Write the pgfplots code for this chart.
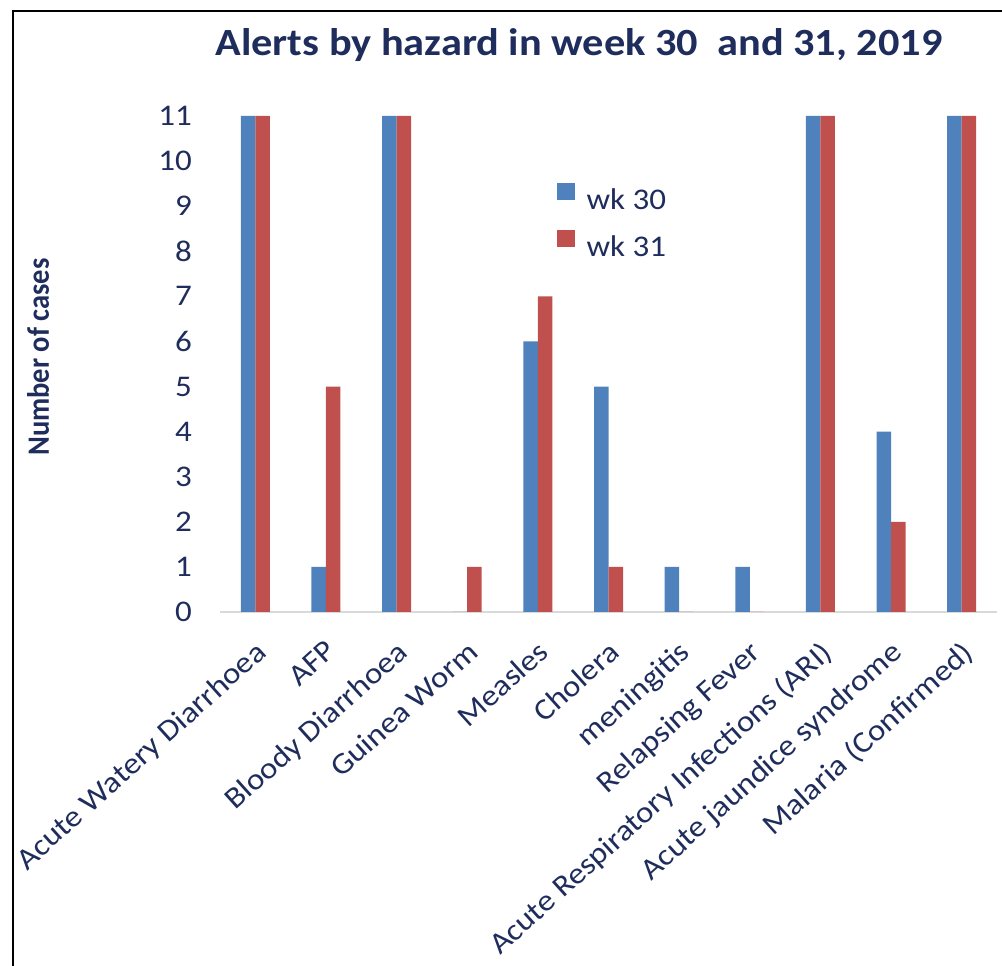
\documentclass[border=0pt]{standalone}
\usepackage{pgfplots}
\pgfplotsset{compat=1.18}
\usepackage{fontspec}
\setmainfont{Carlito}[FakeStretch=1.1]
\newfontfamily\condfont{Carlito}[FakeStretch=0.92]
\definecolor{barblue}{HTML}{4F81BD}
\definecolor{barred}{HTML}{C0504D}
\definecolor{navy}{HTML}{1F2D5C}
\definecolor{axgray}{HTML}{D9D9D9}
\begin{document}
\begin{tikzpicture}
\useasboundingbox (0,0) rectangle (1002pt,966pt);
\draw[line width=2.5pt, black] (13pt,-20pt) -- (13pt,955pt) -- (1030pt,955pt);
\begin{axis}[
  at={(220pt,354pt)}, anchor=south west,
  scale only axis, width=777pt, height=496pt,
  xmin=-0.5, xmax=10.5, ymin=0, ymax=11,
  ybar=0pt, bar width=14.5pt,
  axis x line*=bottom, axis y line*=left,
  x axis line style={draw=axgray, line width=2pt, -},
  y axis line style={draw=none},
  tick style={draw=none}, major tick length=0pt,
  xtick={0,...,10},
  xticklabels={Acute Watery Diarrhoea, AFP, Bloody Diarrhoea, Guinea Worm, Measles, Cholera, meningitis, Relapsing Fever, Acute Respiratory Infections (ARI), Acute jaundice syndrome, Malaria (Confirmed)},
  x tick label style={rotate=42, anchor=north east, inner sep=0pt, xshift=-19pt, yshift=-19pt, font=\fontsize{30}{36}\selectfont, text=navy},
  ytick={0,...,11},
  y tick label style={anchor=east, inner sep=0pt, xshift=-28pt, font=\fontsize{30}{36}\selectfont, text=navy},
  /pgf/number format/assume math mode=true,
  legend style={at={(0.433,0.865)}, anchor=north west, draw=none, fill=none, font=\fontsize{30}{36}\selectfont, text=navy, row sep=19pt, column sep=12pt, inner sep=0pt, nodes={inner sep=0pt}},
  legend cell align=left,
]
\addplot[fill=barblue, draw=none, legend image code/.code={\fill[barblue] (0pt,0pt) rectangle (18pt,17pt);}] coordinates {(0,11) (1,1) (2,11) (3,0) (4,6) (5,5) (6,1) (7,1) (8,11) (9,4) (10,11)};
\addplot[fill=barred, draw=none, legend image code/.code={\fill[barred] (0pt,0pt) rectangle (18pt,17pt);}] coordinates {(0,11) (1,5) (2,11) (3,1) (4,7) (5,1) (6,0) (7,0) (8,11) (9,2) (10,11)};
\legend{wk 30, wk 31}
\end{axis}
\node[font=\bfseries\fontsize{38.5}{46}\selectfont, text=navy] at (579pt,921pt) {Alerts by hazard in week 30\ \ and 31, 2019};
\node[rotate=90, font=\condfont\bfseries\fontsize{31}{36}\selectfont, text=navy] at (38pt,609pt) {Number of cases};
\end{tikzpicture}
\end{document}
